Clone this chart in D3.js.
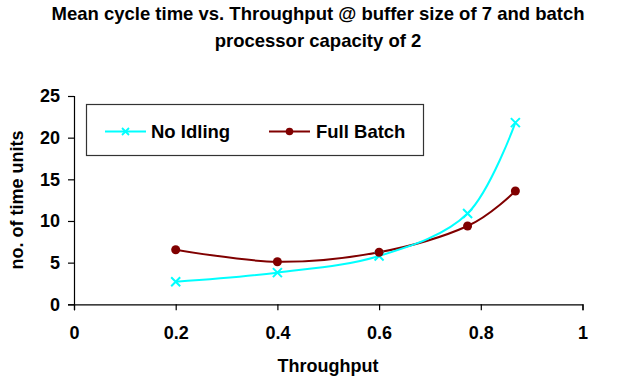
<!DOCTYPE html>
<html>
<head>
<meta charset="utf-8">
<script src="https://cdn.jsdelivr.net/npm/d3@7"></script>
<style>
  html, body { margin: 0; padding: 0; background: #fff; }
  svg { display: block; font-family: Arial, "Liberation Sans", sans-serif; font-weight: bold; }
</style>
</head>
<body>
<svg id="chart" width="634" height="384"></svg>
<script>
// Mean cycle time against throughput for two batching policies
const throughput = [0.2, 0.4, 0.6, 0.774, 0.868];
const noIdling   = [2.7, 3.8, 5.8, 10.9, 21.8];
const fullBatch  = [6.55, 5.1, 6.25, 9.4, 13.6];

const xTicks = [0, 0.2, 0.4, 0.6, 0.8, 1];
const xTickLabels = ["0", "0.2", "0.4", "0.6", "0.8", "1"];
const yTicks = [0, 5, 10, 15, 20, 25];
const yTickLabels = ["0", "5", "10", "15", "20", "25"];

const titleLines = ["Mean cycle time vs. Throughput @ buffer size of 7 and batch",
                    "processor capacity of 2"];
const seriesNames = ["No Idling", "Full Batch"];

const svg = d3.select("#chart");
const plot = { left: 74, right: 582.5, top: 96, bottom: 304.3 };

const x = d3.scaleLinear().domain([0, 1]).range([plot.left, plot.right]);
const y = d3.scaleLinear().domain([0, 25]).range([plot.bottom, plot.top]);

// Title
svg.append("g").selectAll("text").data(titleLines).join("text")
  .attr("x", 318).attr("y", (d, i) => 20 + i * 26.5)
  .attr("text-anchor", "middle").attr("font-size", 18.5)
  .text(d => d);

// Axes
const xAxis = d3.axisBottom(x).tickValues(xTicks)
  .tickFormat((d, i) => xTickLabels[i]).tickSize(6).tickPadding(16);
const gx = svg.append("g").attr("transform", `translate(0,${plot.bottom})`).call(xAxis);

const yAxis = d3.axisLeft(y).tickValues(yTicks)
  .tickFormat((d, i) => yTickLabels[i]).tickSize(6).tickPadding(8);
const gy = svg.append("g").attr("transform", `translate(${plot.left},0)`).call(yAxis);

[gx, gy].forEach(g => {
  g.select(".domain").attr("stroke", "#000").attr("stroke-width", 1.2);
  g.selectAll(".tick line").attr("stroke", "#000").attr("stroke-width", 1.2);
  g.selectAll(".tick text").attr("fill", "#000").attr("font-size", 18)
    .attr("font-family", "Arial, 'Liberation Sans', sans-serif").attr("font-weight", "bold");
});
gx.selectAll(".tick text").attr("dy", "0.71em");

// Axis titles
svg.append("text").attr("x", 328).attr("y", 372)
  .attr("text-anchor", "middle").attr("font-size", 18).text("Throughput");
svg.append("text")
  .attr("transform", "translate(23,200) rotate(-90)")
  .attr("text-anchor", "middle").attr("font-size", 18).text("no. of time units");

// Series
const line = d3.line().curve(d3.curveCatmullRom.alpha(0))
  .x(d => x(d[0])).y(d => y(d[1]));

const cyan = "#00FFFF", maroon = "#800000";

function crossPath(s) {
  return `M${-s},${-s}L${s},${s}M${-s},${s}L${s},${-s}`;
}

const s1 = throughput.map((t, i) => [t, noIdling[i]]);
const s2 = throughput.map((t, i) => [t, fullBatch[i]]);

svg.append("path").datum(s2).attr("d", line)
  .attr("fill", "none").attr("stroke", maroon).attr("stroke-width", 2);
svg.append("path").datum(s1).attr("d", line)
  .attr("fill", "none").attr("stroke", cyan).attr("stroke-width", 2);

svg.append("g").selectAll("path").data(s1).join("path")
  .attr("transform", d => `translate(${x(d[0])},${y(d[1])})`)
  .attr("d", crossPath(4.5)).attr("stroke", cyan).attr("stroke-width", 2).attr("fill", "none");
svg.append("g").selectAll("circle").data(s2).join("circle")
  .attr("cx", d => x(d[0])).attr("cy", d => y(d[1])).attr("r", 4.5)
  .attr("fill", maroon);

// Legend
const legend = svg.append("g");
legend.append("rect").attr("x", 86.5).attr("y", 104.5).attr("width", 337).attr("height", 51)
  .attr("fill", "#fff").attr("stroke", "#333").attr("stroke-width", 1.2);
const items = [
  { name: seriesNames[0], color: cyan, x0: 105, tx: 151, marker: "x" },
  { name: seriesNames[1], color: maroon, x0: 269, tx: 316, marker: "o" }
];
items.forEach(it => {
  const ly = 131.5;
  legend.append("line").attr("x1", it.x0).attr("x2", it.x0 + 41).attr("y1", ly).attr("y2", ly)
    .attr("stroke", it.color).attr("stroke-width", 2);
  if (it.marker === "x") {
    legend.append("path").attr("transform", `translate(${it.x0 + 20.5},${ly})`)
      .attr("d", crossPath(3.5)).attr("stroke", it.color).attr("stroke-width", 1.8).attr("fill", "none");
  } else {
    legend.append("circle").attr("cx", it.x0 + 20.5).attr("cy", ly).attr("r", 3.8).attr("fill", it.color);
  }
  legend.append("text").attr("x", it.tx).attr("y", 137.5).attr("font-size", 18.5).text(it.name);
});
</script>
</body>
</html>
